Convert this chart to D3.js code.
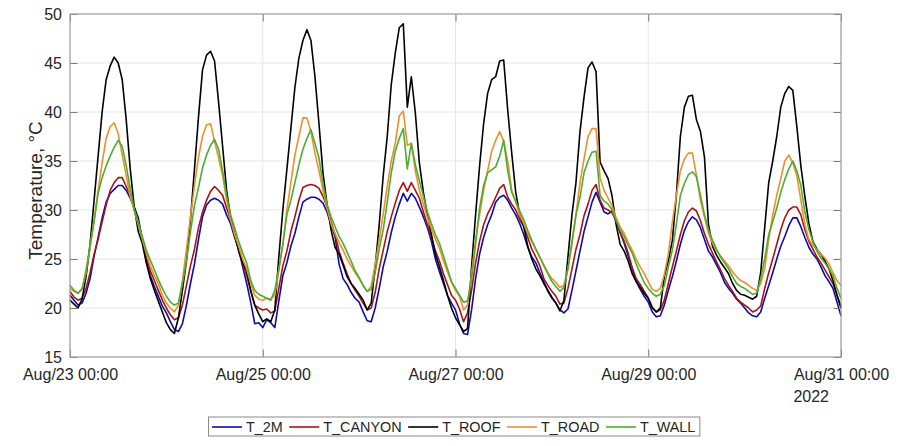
<!DOCTYPE html>
<meta charset="utf-8">
<script src="https://d3js.org/d3.v7.min.js"></script>
<style>
body {margin: 0; background: #fff;}
text {font-family: "Liberation Sans", Arial, sans-serif; fill: #262626;}
.grid line {stroke: #e6e6e6; stroke-width: 1;}
.axis line {stroke: #7a7a7a;}
.axis path {display: none;}
.axis text {font-size: 16px;}
.series {fill: none; stroke-width: 1.6; stroke-linejoin: round;}
.legend text {font-size: 14.4px;}
</style>
<div id="vis"></div>
<script>

// hourly samples, Aug/23 00:00 .. Aug/31 00:00 (UTC)
const startTime = Date.UTC(2022, 7, 23, 0);
const endTime = Date.UTC(2022, 7, 31, 0);

const T_2M = [
  21.3, 20.8, 20.3, 20.5, 21.5, 23.0, 25.3, 27.2, 29.2, 30.8, 31.7, 32.1, 32.5, 32.5, 32.0, 31.2, 30.3, 29.2, 27.0, 24.8, 23.3, 22.2, 21.2, 20.2,
  19.5, 18.6, 17.8, 17.6, 18.4, 20.3, 22.5, 24.5, 27.0, 29.3, 30.5, 31.0, 31.2, 31.0, 30.6, 29.5, 28.6, 27.2, 26.0, 24.2, 22.5, 20.6, 18.4, 18.5,
  18.0, 18.8, 18.5, 18.0, 20.7, 23.3, 24.6, 26.3, 27.6, 29.3, 30.8, 31.1, 31.3, 31.3, 31.1, 30.7, 29.8, 28.5, 27.3, 24.5, 23.0, 22.4, 21.6, 21.0,
  20.6, 19.6, 18.7, 18.6, 20.0, 22.0, 24.2, 25.8, 27.7, 29.3, 30.6, 31.7, 30.9, 31.7, 31.2, 30.3, 29.3, 28.2, 26.8, 25.0, 23.7, 22.5, 21.3, 20.5,
  19.8, 18.4, 17.4, 17.3, 19.8, 23.0, 25.5, 27.2, 28.5, 29.5, 30.8, 31.3, 31.5, 31.0, 30.2, 29.5, 28.6, 27.5, 26.2, 25.2, 24.6, 23.6, 22.7, 21.7,
  21.0, 20.5, 19.8, 19.5, 19.9, 21.8, 23.8, 25.8, 27.8, 29.3, 30.8, 31.8, 30.8, 29.8, 29.6, 29.9, 28.8, 27.7, 26.6, 25.3, 24.0, 22.7, 21.9, 21.2,
  20.6, 19.6, 19.1, 19.2, 20.3, 21.8, 23.2, 24.8, 26.5, 27.9, 28.8, 29.3, 29.0, 28.2, 27.0, 25.8, 25.2, 24.4, 23.6, 22.6, 22.0, 21.5, 20.9, 20.5,
  20.0, 19.5, 19.2, 19.1, 19.6, 21.0, 22.3, 23.6, 25.0, 26.3, 27.3, 28.4, 29.2, 29.2, 28.3, 27.2, 26.2, 25.5, 25.0, 24.2, 23.3, 22.7, 22.0, 20.6,
  19.2
];

const T_CANYON = [
  21.7, 21.1, 20.8, 21.0, 22.0, 23.6, 25.5, 27.0, 28.8, 30.5, 32.0, 32.8, 33.3, 33.3, 32.4, 31.5, 30.0, 28.8, 27.0, 25.2, 23.8, 22.8, 21.8, 20.8,
  20.0, 19.3, 18.8, 19.0, 20.3, 22.3, 24.3, 26.0, 28.2, 29.8, 31.0, 31.9, 32.4, 32.0, 31.5, 30.2, 29.0, 27.5, 26.0, 24.5, 23.3, 21.7, 20.3, 20.0,
  19.8, 19.9, 19.5, 19.7, 22.0, 24.3, 25.8, 27.8, 29.3, 31.0, 32.3, 32.5, 32.6, 32.5, 32.2, 31.4, 30.3, 28.8, 27.5, 25.8, 24.6, 23.5, 22.5, 21.8,
  21.2, 20.5, 19.8, 20.0, 21.6, 24.0, 25.9, 27.8, 29.3, 30.7, 32.0, 32.8, 31.9, 32.8, 32.0, 31.2, 29.8, 28.5, 27.2, 25.8, 24.8, 23.5, 22.4, 21.3,
  20.8, 19.9, 18.6, 19.5, 21.8, 24.6, 26.8, 28.5, 29.6, 30.4, 31.3, 32.2, 32.6, 31.3, 30.6, 30.0, 29.0, 28.3, 27.2, 26.0, 25.2, 24.3, 23.0, 22.3,
  21.7, 21.2, 20.4, 20.5, 22.0, 24.0, 26.0, 27.5, 29.4, 30.6, 32.0, 32.6, 31.0, 30.2, 30.0, 29.7, 28.9, 27.7, 26.8, 25.6, 24.1, 23.0, 22.4, 21.7,
  21.0, 20.1, 19.6, 19.8, 20.8, 22.5, 24.2, 25.8, 27.5, 28.9, 29.8, 30.2, 29.9, 28.9, 27.6, 26.5, 25.6, 24.7, 23.9, 23.0, 22.3, 21.7, 21.0, 20.6,
  20.3, 20.0, 19.6, 19.8, 20.2, 22.0, 23.6, 25.0, 26.5, 28.0, 29.2, 30.0, 30.3, 30.3, 29.5, 28.0, 26.8, 26.0, 25.2, 24.6, 23.9, 23.2, 22.5, 21.3,
  20.2
];

const T_ROOF = [
  20.8, 20.4, 20.0, 20.9, 23.2, 26.5, 31.0, 35.5, 40.0, 43.3, 44.7, 45.6, 45.0, 43.3, 39.2, 34.2, 30.3, 27.8, 26.6, 24.6, 23.0, 21.8, 20.7, 19.6,
  18.5, 17.8, 17.4, 19.0, 21.8, 24.8, 29.0, 34.2, 39.5, 44.3, 45.8, 46.2, 45.2, 41.0, 36.5, 32.0, 29.2, 27.5, 25.8, 24.6, 23.8, 21.8, 20.3, 19.4,
  18.6, 18.9, 18.6, 19.8, 25.2, 30.0, 34.1, 38.3, 42.5, 45.5, 47.3, 48.4, 47.3, 43.6, 38.8, 33.8, 30.6, 28.0, 26.2, 25.5, 24.4, 23.2, 22.5, 22.0,
  21.4, 20.8, 19.8, 20.5, 24.2, 28.5, 33.5, 37.5, 42.8, 46.0, 48.6, 49.0, 40.5, 43.6, 39.9, 34.8, 31.8, 29.5, 27.5, 25.5, 24.2, 22.8, 21.3, 20.0,
  19.0, 18.3, 17.6, 17.9, 24.2, 29.5, 34.5, 38.8, 41.9, 43.3, 43.6, 45.2, 45.3, 40.2, 35.8, 31.8, 29.5, 28.3, 26.3, 25.0, 24.0, 23.3, 22.5, 21.8,
  21.1, 20.5, 19.7, 20.8, 25.2, 29.5, 32.8, 38.0, 41.5, 44.5, 45.1, 44.1, 34.9, 34.0, 33.2, 31.4, 28.5, 26.5, 25.8, 24.8, 23.5, 22.7, 22.1, 21.5,
  21.0, 20.0, 19.6, 20.0, 23.2, 24.8, 26.9, 31.5, 37.5, 40.5, 41.6, 41.7, 39.2, 38.0, 35.4, 28.5, 26.3, 25.4, 24.7, 24.1, 23.5, 22.5, 21.8, 21.4,
  21.3, 21.1, 20.9, 21.2, 23.6, 28.2, 32.8, 35.0, 37.5, 40.5, 41.9, 42.6, 42.2, 38.5, 34.5, 31.4, 28.6, 26.8, 26.0, 25.5, 24.8, 24.0, 22.8, 21.3,
  20.0
];

const T_ROAD = [
  22.0, 21.7, 21.5, 21.9, 24.0, 26.0, 29.0, 32.0, 34.8, 37.3, 38.5, 38.9, 37.8, 35.6, 33.5, 31.4, 30.0, 28.5, 27.0, 25.6, 24.3, 23.3, 22.5, 21.3,
  20.5, 20.0, 19.6, 20.3, 22.8, 26.0, 29.3, 32.5, 35.4, 37.5, 38.7, 38.8, 37.0, 35.3, 33.5, 31.0, 29.0, 27.5, 26.3, 25.0, 24.0, 22.5, 21.3, 20.9,
  20.8, 21.0, 20.9, 21.3, 23.8, 26.5, 30.0, 32.8, 35.6, 37.5, 39.4, 39.4, 38.0, 35.8, 34.0, 32.0, 30.2, 28.6, 27.6, 26.7, 25.9, 25.0, 24.3, 23.6,
  23.0, 22.3, 21.7, 22.2, 24.5, 26.9, 29.6, 32.4, 35.0, 36.8, 39.6, 40.1, 36.6, 36.8, 34.0, 32.0, 30.6, 29.2, 28.1, 27.0, 26.1, 24.8, 23.7, 22.6,
  21.8, 21.2, 19.8, 20.3, 23.5, 27.0, 29.5, 32.0, 34.0, 36.0, 37.1, 38.0, 37.0, 35.0, 32.0, 30.8, 29.5, 28.6, 27.6, 26.8, 26.0, 25.2, 24.4, 23.6,
  23.0, 22.6, 22.1, 22.3, 24.0, 26.5, 29.5, 32.8, 35.2, 37.5, 38.3, 38.3, 33.3, 32.0, 31.2, 30.4, 29.2, 28.3, 27.6, 26.7, 25.9, 25.0, 24.2, 23.5,
  22.7, 21.9, 21.7, 22.0, 23.4, 25.5, 28.8, 31.5, 34.0, 35.2, 35.8, 35.8, 33.5, 31.0, 29.3, 27.6, 26.6, 25.9, 25.3, 24.8, 24.3, 23.7, 23.2, 22.8,
  22.6, 22.3, 22.0, 21.8, 22.5, 24.0, 27.0, 29.5, 31.5, 33.2, 35.0, 35.6, 34.8, 33.5, 31.0, 28.5, 27.0, 26.4, 26.0, 25.5, 25.1, 24.5, 23.6, 22.8,
  22.3
];

const T_WALL = [
  22.3, 21.8, 21.5, 22.0, 23.5, 26.5, 28.8, 31.7, 33.3, 34.5, 35.5, 36.4, 37.1, 36.5, 34.5, 32.2, 30.0, 28.7, 27.3, 25.9, 24.9, 23.9, 22.9, 22.0,
  21.2, 20.6, 20.3, 20.5, 22.5, 24.8, 27.8, 30.5, 32.3, 34.3, 35.6, 36.6, 37.2, 36.2, 34.0, 31.5, 29.5, 28.2, 26.8, 25.6, 24.6, 22.8, 21.8, 21.4,
  21.2, 21.0, 20.8, 21.8, 24.0, 26.5, 29.5, 31.0, 32.8, 34.6, 36.2, 37.3, 38.2, 36.8, 35.3, 32.7, 30.6, 29.3, 28.3, 27.3, 26.6, 25.7, 24.8, 23.8,
  23.1, 22.3, 21.7, 21.9, 23.6, 26.0, 28.0, 30.8, 33.8, 36.0, 37.3, 38.3, 34.2, 36.8, 34.6, 33.0, 31.4, 29.8, 28.6, 27.5, 26.6, 25.3, 24.0, 22.7,
  22.0, 21.3, 20.6, 20.7, 23.0, 26.5, 30.2, 32.5, 33.8, 34.1, 34.4, 35.5, 37.1, 34.0, 31.8, 30.9, 29.9, 29.0, 27.9, 26.9, 26.0, 25.2, 24.3, 23.5,
  22.7, 22.2, 21.7, 22.1, 24.0, 26.8, 29.5, 31.3, 33.8, 35.0, 35.9, 36.0, 31.5, 30.9, 30.6, 30.0, 28.9, 28.0, 27.3, 26.4, 25.6, 24.5, 23.5, 22.6,
  22.0, 21.5, 21.2, 21.4, 22.3, 24.2, 25.9, 28.5, 31.5, 32.7, 33.6, 33.9, 33.4, 31.5, 29.5, 28.0, 26.9, 26.0, 25.2, 24.6, 24.0, 23.2, 22.5, 22.2,
  22.0, 21.7, 21.4, 21.5, 23.0, 25.0, 27.5, 28.8, 30.2, 31.8, 33.1, 34.2, 35.0, 34.0, 32.5, 29.8, 28.0, 26.8, 25.8, 25.1, 24.6, 24.0, 23.3, 22.0,
  21.0
];

const seriesNames = ["T_2M", "T_CANYON", "T_ROOF", "T_ROAD", "T_WALL"];
const seriesValues = [T_2M, T_CANYON, T_ROOF, T_ROAD, T_WALL];
const seriesColors = ["#0b0bb0", "#a81414", "#000000", "#ee8f2c", "#4aae2e"];

const yTicks = [15, 20, 25, 30, 35, 40, 45, 50];
const xTicks = [23, 25, 27, 29, 31].map(d => new Date(Date.UTC(2022, 7, d, 0)));
const yearLabel = "2022";
const yLabel = "Temperature, \u00B0C";

// Size and plot box
const w = 902, h = 446;
const box = {left: 70, top: 14, right: 841, bottom: 357};

let svg = d3.select("#vis")
  .append("svg")
  .attr("width", w)
  .attr("height", h);

let x = d3.scaleUtc()
  .domain([new Date(startTime), new Date(endTime)])
  .range([box.left, box.right]);

let y = d3.scaleLinear()
  .domain([15, 50])
  .range([box.bottom, box.top]);

// grid
let grid = svg.append("g").attr("class", "grid");
grid.selectAll(".gx")
  .data(xTicks.slice(1, -1))
  .enter().append("line")
    .attr("x1", d => x(d)).attr("x2", d => x(d))
    .attr("y1", box.top).attr("y2", box.bottom);
grid.selectAll(".gy")
  .data(yTicks.slice(1, -1))
  .enter().append("line")
    .attr("x1", box.left).attr("x2", box.right)
    .attr("y1", d => y(d)).attr("y2", d => y(d));

// lines
const hourMs = 3600 * 1000;
let line = d3.line()
  .x((d, i) => x(new Date(startTime + i * hourMs)))
  .y(d => y(d));

svg.append("g")
  .selectAll("path")
  .data(seriesValues)
  .enter().append("path")
    .attr("class", "series")
    .attr("stroke", (d, i) => seriesColors[i])
    .attr("d", line);

// axes, ticks pointing inwards
const tickLen = 7.5;
const fmt = d3.utcFormat("%b/%d %H:%M");

svg.append("g")
  .attr("class", "axis axis-x")
  .attr("transform", "translate(0," + box.bottom + ")")
  .call(d3.axisBottom(x).tickValues(xTicks).tickFormat(fmt)
    .tickSizeInner(-tickLen).tickSizeOuter(0).tickPadding(12));

svg.append("g")
  .attr("class", "axis")
  .attr("transform", "translate(0," + box.top + ")")
  .call(d3.axisTop(x).tickValues(xTicks).tickFormat("")
    .tickSizeInner(-tickLen).tickSizeOuter(0));

svg.append("g")
  .attr("class", "axis axis-y")
  .attr("transform", "translate(" + box.left + ",0)")
  .call(d3.axisLeft(y).tickValues(yTicks)
    .tickSizeInner(-tickLen).tickSizeOuter(0).tickPadding(8));

svg.append("g")
  .attr("class", "axis")
  .attr("transform", "translate(" + box.right + ",0)")
  .call(d3.axisRight(y).tickValues(yTicks).tickFormat("")
    .tickSizeInner(-tickLen).tickSizeOuter(0));

svg.selectAll(".axis text").attr("fill", "#262626");

// box
svg.append("rect")
  .attr("x", box.left).attr("y", box.top)
  .attr("width", box.right - box.left)
  .attr("height", box.bottom - box.top)
  .attr("fill", "none")
  .attr("stroke", "#9a9a9a")
  .attr("stroke-width", 1.2);

// year under the last tick label
let lastLabel = svg.selectAll(".axis-x .tick text").nodes().pop();
let lastW = lastLabel.getComputedTextLength();
svg.append("text")
  .attr("x", x(xTicks[xTicks.length - 1]) - lastW / 2)
  .attr("y", 401.5)
  .style("font-size", "16px")
  .text(yearLabel);

// y label
svg.append("text")
  .attr("transform", "translate(41.5," + ((box.top + box.bottom) / 2 + 5) + ") rotate(-90)")
  .attr("text-anchor", "middle")
  .style("font-size", "19px")
  .text(yLabel);

// legend
let legend = svg.append("g").attr("class", "legend");
let legendBox = legend.append("rect")
  .attr("y", 417).attr("height", 19)
  .attr("fill", "#fff")
  .attr("stroke", "#8a8a8a")
  .attr("stroke-width", 1);

let lx = 212;
seriesNames.forEach((name, i) => {
  legend.append("line")
    .attr("x1", lx).attr("x2", lx + 30)
    .attr("y1", 427).attr("y2", 427)
    .attr("stroke", seriesColors[i])
    .attr("stroke-width", 1.6);
  let t = legend.append("text")
    .attr("x", lx + 34)
    .attr("y", 432)
    .text(name);
  lx += 34 + t.node().getComputedTextLength() + 6.5;
});
legendBox.attr("x", 208.5).attr("width", lx - 208.5 - 2);

</script>
